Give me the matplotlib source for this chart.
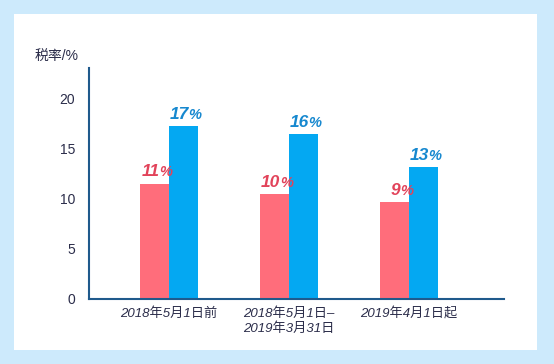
import matplotlib
matplotlib.use("Agg")
import matplotlib.pyplot as plt
from matplotlib.patches import Rectangle
import numpy as np

plt.rcParams["font.family"] = ["Liberation Sans", "Noto Sans CJK SC", "DejaVu Sans"]

# data
periods = ["2018年5月1日前", "2018年5月1日–\n2019年3月31日", "2019年4月1日起"]
low_rate = [11.5, 10.5, 9.7]      # bar heights as drawn
high_rate = [17.2, 16.4, 13.1]
low_labels = ["11", "10", "9"]
high_labels = ["17", "16", "13"]
yticks = [0, 5, 10, 15, 20]

PINK = "#ff6d7b"
BLUE = "#04a8f2"
PINK_TXT = "#e2435a"
BLUE_TXT = "#1688cf"
NAVY = "#1f5a8c"
TXT = "#2b2d4a"
BG = "#cdeafc"

W, H = 554, 364
fig = plt.figure(figsize=(W / 100, H / 100), dpi=100)
fig.patch.set_facecolor(BG)
fig.patches.append(Rectangle((14 / W, 1 - 350 / H), (537 - 14) / W, (350 - 14) / H,
                             transform=fig.transFigure, facecolor="white",
                             edgecolor="none", zorder=-10))

ax = fig.add_axes([89 / W, 65 / H, 415 / W, 231 / H])
ax.set_facecolor("none")
ax.set_zorder(1)

x = np.arange(len(periods))
bw = 0.24
ax.bar(x - bw / 2, low_rate, bw, color=PINK, zorder=2)
ax.bar(x + bw / 2, high_rate, bw, color=BLUE, zorder=2)


def value_label(xc, h, num, color):
    kw = dict(xy=(xc, h), textcoords="offset pixels", color=color,
              fontweight="bold", fontstyle="italic", va="bottom")
    ax.annotate(num, xytext=(5, 4), ha="right", fontsize=12.5, **kw)
    ax.annotate("%", xytext=(5, 4), ha="left", fontsize=10.5, **kw)


for i in range(len(periods)):
    value_label(x[i] - bw / 2, low_rate[i], low_labels[i], PINK_TXT)
    value_label(x[i] + bw / 2, high_rate[i], high_labels[i], BLUE_TXT)

ax.set_xlim(-0.667, 2.79)
ax.set_ylim(0, 23)
ax.set_yticks(yticks)
ax.set_yticklabels([str(t) for t in yticks], fontsize=10, color=TXT)
ax.set_xticks(x)
ax.set_xticklabels(periods, fontsize=9.5, color=TXT, fontstyle="italic",
                   linespacing=1.25)
ax.tick_params(axis="both", length=0)
ax.tick_params(axis="y", pad=10)
ax.tick_params(axis="x", pad=6)

for s in ["top", "right"]:
    ax.spines[s].set_visible(False)
for s in ["left", "bottom"]:
    ax.spines[s].set_color(NAVY)
    ax.spines[s].set_linewidth(1.5)

fig.text(57 / W, 1 - 57 / H, "税率/%", ha="center", va="center",
         fontsize=10, color=TXT)

fig.savefig("out.png", dpi=100, facecolor=fig.get_facecolor())
